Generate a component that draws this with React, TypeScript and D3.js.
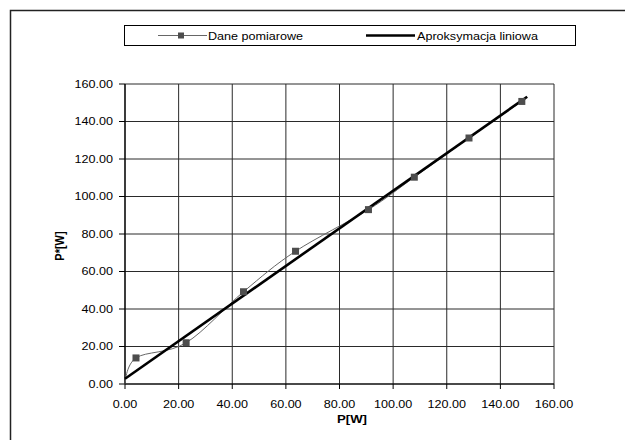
import React from "react";
import * as d3 from "d3";

const measuredX = [0, 4.1, 22.8, 44.2, 63.6, 90.8, 107.9, 128.3, 148.0];
const measuredY = [0, 13.9, 22.0, 49.2, 70.8, 93.0, 110.3, 131.2, 150.7];
const fitX = [0, 150];
const fitY = [2.8, 153.2];
const ticks = [0, 20, 40, 60, 80, 100, 120, 140, 160];
const seriesNames = ["Dane pomiarowe", "Aproksymacja liniowa"];
const xTitle = "P[W]";
const yTitle = "P*[W]";

const W = 625;
const H = 440;
const FONT = "'Liberation Sans', Arial, sans-serif";
const FS = 10.5;
const SX = 1.2;

export default function App() {
  const x = d3.scaleLinear().domain([0, 160]).range([125, 554]);
  const y = d3.scaleLinear().domain([0, 160]).range([384, 84]);
  const fmt = d3.format(".2f");

  const pts: [number, number][] = measuredX.map((v, i) => [v, measuredY[i]]);
  const smooth = d3
    .line<[number, number]>()
    .x((d) => x(d[0]))
    .y((d) => y(d[1]))
    .curve(d3.curveCardinal.tension(0))(pts) as string;
  const fitPts: [number, number][] = fitX.map((v, i) => [v, fitY[i]]);
  const fitLine = d3
    .line<[number, number]>()
    .x((d) => x(d[0]))
    .y((d) => y(d[1]))(fitPts) as string;

  const ms = 7;
  const text = (
    key: string,
    tx: number,
    ty: number,
    s: string,
    anchor: string,
    extra: any = {}
  ) => (
    <text
      key={key}
      transform={`translate(${tx},${ty}) scale(${SX},1)`}
      textAnchor={anchor}
      fontFamily={FONT}
      fontSize={FS}
      fill="#000"
      {...extra}
    >
      {s}
    </text>
  );

  return (
    <svg
      width={W}
      height={H}
      style={{ position: "absolute", left: 0, top: 0, background: "#fff" }}
    >
      <rect x={0} y={0} width={W} height={H} fill="#fff" />
      {/* outer frame */}
      <rect x={10.5} y={10.5} width={W + 20} height={H + 20} fill="none" stroke="#222" strokeWidth={1.5} />

      {/* grid */}
      {ticks.map((t) => (
        <line key={"gx" + t} x1={x(t)} x2={x(t)} y1={y(0)} y2={y(160)} stroke="#2a2a2a" strokeWidth={1} />
      ))}
      {ticks.map((t) => (
        <line key={"gy" + t} x1={x(0)} x2={x(160)} y1={y(t)} y2={y(t)} stroke="#2a2a2a" strokeWidth={1} />
      ))}
      {/* axes */}
      <line x1={x(0)} x2={x(0)} y1={y(0)} y2={y(160)} stroke="#000" strokeWidth={1.2} />
      <line x1={x(0)} x2={x(160)} y1={y(0)} y2={y(0)} stroke="#000" strokeWidth={1.2} />
      {ticks.map((t) => (
        <line key={"tx" + t} x1={x(t)} x2={x(t)} y1={y(0)} y2={y(0) + 5} stroke="#000" strokeWidth={1} />
      ))}
      {ticks.map((t) => (
        <line key={"ty" + t} x1={x(0) - 6} x2={x(0)} y1={y(t)} y2={y(t)} stroke="#000" strokeWidth={1} />
      ))}
      {ticks.map((t) => text("lx" + t, x(t), 408, fmt(t), "middle"))}
      {ticks.map((t) => text("ly" + t, 113, y(t) + 3.8, fmt(t), "end"))}

      {/* axis titles */}
      {text("xt", 352, 423, xTitle, "middle", { fontWeight: "bold", fontSize: 11 })}
      <text
        transform={`translate(64,246) scale(${SX},1) rotate(-90)`}
        textAnchor="middle"
        fontFamily={FONT}
        fontSize={11}
        fontWeight="bold"
        fill="#000"
      >
        {yTitle}
      </text>

      {/* measured series */}
      <path d={smooth} fill="none" stroke="#666" strokeWidth={1} />
      {/* linear fit */}
      <path d={fitLine} fill="none" stroke="#000" strokeWidth={2.6} />
      {pts.slice(1).map((d, i) => (
        <rect
          key={"m" + i}
          x={x(d[0]) - ms / 2}
          y={y(d[1]) - ms / 2}
          width={ms}
          height={ms}
          fill="#4d4d4d"
        />
      ))}

      {/* legend */}
      <rect x={124.5} y={25.5} width={451} height={20} fill="#fff" stroke="#000" strokeWidth={1} />
      <line x1={158} x2={207} y1={35.5} y2={35.5} stroke="#666" strokeWidth={1} />
      <rect x={181 - 3} y={35.5 - 3} width={6} height={6} fill="#4d4d4d" />
      {text("lg1", 208, 39.5, seriesNames[0], "start")}
      <line x1={366} x2={415} y1={35.5} y2={35.5} stroke="#000" strokeWidth={2.6} />
      {text("lg2", 417, 39.5, seriesNames[1], "start")}
    </svg>
  );
}
